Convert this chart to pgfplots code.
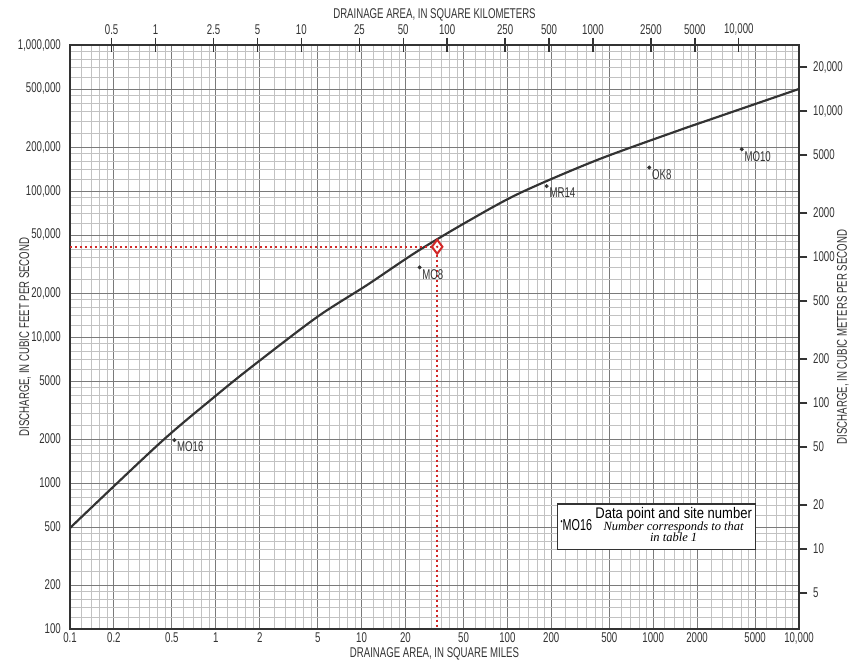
\documentclass[border=0pt]{standalone}
\usepackage{fontspec}
\setmainfont{Liberation Sans}[FakeStretch=0.68]
\newfontfamily\legfont{Liberation Sans}[FakeStretch=0.85]
\newfontfamily\legserif{Liberation Serif}
\usepackage{pgfplots}
\pgfplotsset{compat=1.18}
\definecolor{ink}{gray}{0.2}
\definecolor{redline}{RGB}{210,40,40}
\pgfplotstableread{
x y
0.1 492
0.414 1880
0.957 3820
1.72 6130
4.95 13700
10.9 22700
24 38500
55.3 63200
122 96900
412 163000
1528 262000
2196 297000
10000 500000
}\curvedata
\pgfplotstableread{
x y label
0.52 1970 MO16
25 30000 MO8
186 108000 MR14
940 145000 OK8
4050 193000 MO10
}\sitedata
\begin{document}
\begin{tikzpicture}
\pgfplotsset{
  every axis/.append style={
    scale only axis, width=437.4pt, height=350.4pt,
    at={(0,0)}, anchor=south west,
    font=\fontsize{8.5}{9.5}\selectfont,
    tick label style={text=ink},
    label style={text=ink},
  },
}
\begin{axis}[name=main,
  xmode=log, ymode=log,
  xmin=0.1, xmax=10000, ymin=100, ymax=1000000,
  xtick={0.1,0.2,0.5,1,2,5,10,20,50,100,200,500,1000,2000,5000,10000},
  xticklabels={0.1,0.2,0.5,1,2,5,10,20,50,100,200,500,1000,2000,5000,{10,000}},
  ytick={100,200,500,1000,2000,5000,10000,20000,50000,100000,200000,500000,1000000},
  yticklabels={100,200,500,1000,2000,5000,{10,000},{20,000},{50,000},{100,000},{200,000},{500,000},{1,000,000}},
  minor xtick={0.12,0.14,0.16,0.18,0.25,0.3,0.35,0.4,0.45,0.6,0.7,0.8,0.9,1.2,1.4,1.6,1.8,2.5,3,3.5,4,4.5,6,7,8,9,12,14,16,18,25,30,35,40,45,60,70,80,90,120,140,160,180,250,300,350,400,450,600,700,800,900,1200,1400,1600,1800,2500,3000,3500,4000,4500,6000,7000,8000,9000},
  minor ytick={120,140,160,180,250,300,350,400,450,600,700,800,900,1200,1400,1600,1800,2500,3000,3500,4000,4500,6000,7000,8000,9000,12000,14000,16000,18000,25000,30000,35000,40000,45000,60000,70000,80000,90000,120000,140000,160000,180000,250000,300000,350000,400000,450000,600000,700000,800000,900000},
  grid=both,
  major grid style={black!52, line width=0.5pt},
  minor grid style={black!24, line width=0.35pt},
  major tick length=0pt, minor tick length=0pt,
  axis line style={ink, line width=1pt},
  xticklabel style={yshift=1.5pt},
  yticklabel style={xshift=-2pt},
  xlabel={DRAINAGE AREA, IN SQUARE MILES},
  xlabel style={at={(axis description cs:0.5,-0.043)}, anchor=center},
  ylabel={DISCHARGE, IN CUBIC FEET PER SECOND},
  ylabel style={at={(axis description cs:-0.0617,0.5)}, anchor=center, rotate=0},
  clip=false,
]
\addplot[ink, line width=1.3pt, smooth, tension=0.5] table {\curvedata};
\addplot[redline, line width=1.3pt, dash pattern=on 1.4pt off 1.6pt] coordinates {(0.1,41500) (33,41500) (33,100)};
\addplot[only marks, mark=diamond*, mark size=4.2pt, mark options={draw=redline, fill=white, line width=1.2pt}] coordinates {(33,41500)};
\addplot[only marks, mark=*, mark size=0.5pt, redline] coordinates {(33,41500)};
\addplot[only marks, mark=*, mark size=1pt, ink,
  nodes near coords, point meta=explicit symbolic,
  nodes near coords style={anchor=north west, inner sep=0.5pt, text=ink, font=\fontsize{8.5}{9}\selectfont, xshift=1pt, yshift=-0.5pt}]
  table[meta=label] {\sitedata};
\node[draw=ink, line width=0.8pt, fill=white, anchor=north west, inner sep=2pt] at (axis cs:218,727)
  {\raisebox{3.5pt}{\tiny\textbullet}{\fontsize{9.5}{10}\selectfont MO16}\hspace{2pt}\begin{tabular}[c]{@{}c@{}}{\legfont\fontsize{9.2}{10.5}\selectfont Data point and site number}\\[-2.5pt]
   {\legserif\itshape\fontsize{7.5}{8.5}\selectfont Number corresponds to that}\\[-2.5pt]
   {\legserif\itshape\fontsize{7.5}{8.5}\selectfont in table 1}\end{tabular}};
\end{axis}
\begin{axis}[
  xmode=log, ymode=log,
  xmin=0.258999, xmax=25899.9, ymin=100, ymax=1000000,
  axis x line*=top, axis y line=none,
  xtick={0.5,1,2.5,5,10,25,50,100,250,500,1000,2500,5000,10000},
  xticklabels={0.5,1,2.5,5,10,25,50,100,250,500,1000,2500,5000,{10,000}},
  ytick=\empty, xminorticks=false,
  tick align=center, major tick length=9pt,
  major tick style={ink, line width=0.8pt},
  axis line style={draw=none},
  xticklabel style={yshift=-2pt},
  xlabel={DRAINAGE AREA, IN SQUARE KILOMETERS},
  xlabel style={at={(axis description cs:0.5,1.051)}, anchor=center},
]
\addplot[draw=none] coordinates {(1,1000)};
\end{axis}
\begin{axis}[
  xmode=log, ymode=log,
  xmin=0.1, xmax=10000, ymin=2.83168, ymax=28316.8,
  axis y line*=right, axis x line=none,
  ytick={5,10,20,50,100,200,500,1000,2000,5000,10000,20000},
  yticklabels={5,10,20,50,100,200,500,1000,2000,5000,{10,000},{20,000}},
  xtick=\empty, yminorticks=false,
  tick align=outside, major tick length=5pt,
  major tick style={ink, line width=0.8pt},
  axis line style={draw=none},
  ylabel={DISCHARGE, IN CUBIC METERS PER SECOND},
  ylabel style={at={(axis description cs:1.060,0.5)}, anchor=center},
]
\addplot[draw=none] coordinates {(1,100)};
\end{axis}
\pgfresetboundingbox
\path[use as bounding box] ([shift={(-42pt,-19.2pt)}]main.south west) rectangle ([shift={(32.4pt,27pt)}]main.north east);
\end{tikzpicture}
\end{document}
